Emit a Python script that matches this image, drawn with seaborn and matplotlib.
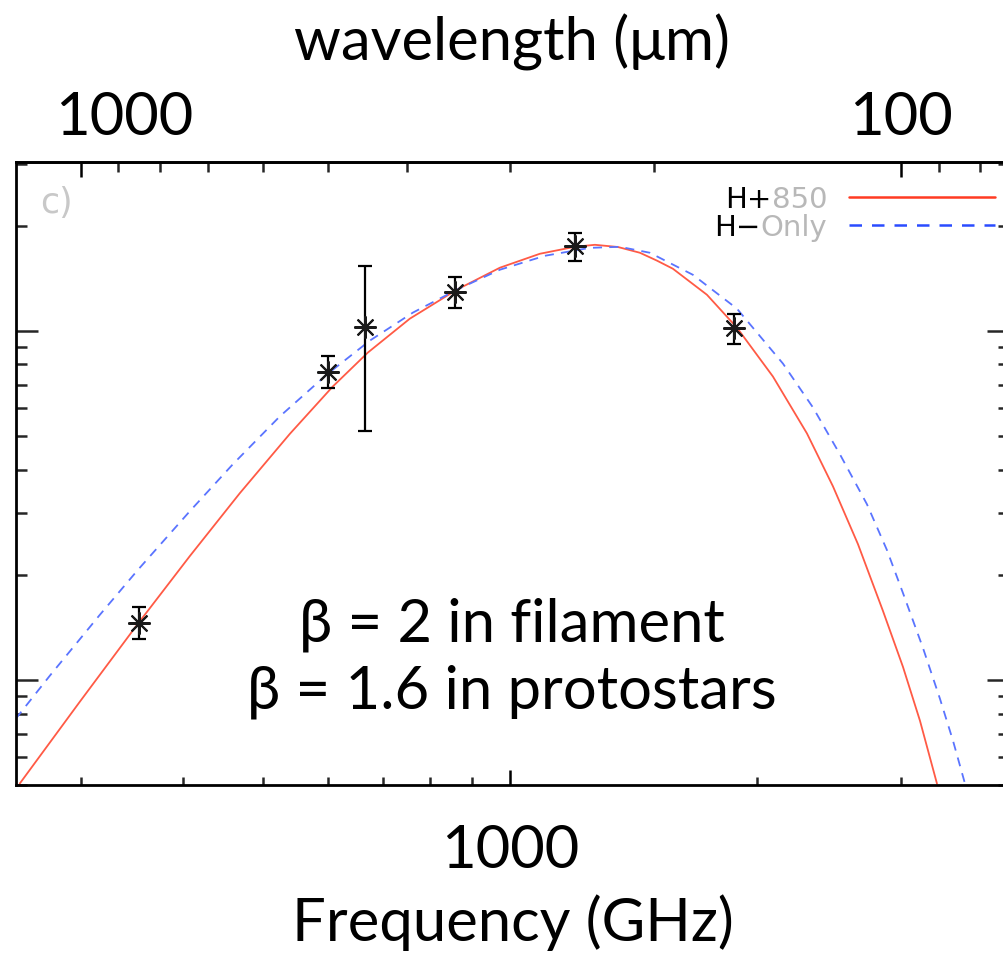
import numpy as np
import matplotlib
matplotlib.use("Agg")
import matplotlib.pyplot as plt
import matplotlib.transforms as mtransforms
import seaborn as sns
from matplotlib.ticker import FixedLocator, NullFormatter, FixedFormatter

# ---------------- data ----------------
C_UM_GHZ = 299792.458  # wavelength(um) * frequency(GHz)

point_wavelength_um = [850, 500, 450, 350, 250, 160]
point_flux = [1.455, 7.63, 10.27, 12.9, 17.5, 10.2]
point_flux_lo = [1.31, 6.87, 5.15, 11.63, 15.85, 9.18]
point_flux_hi = [1.617, 8.48, 15.3, 14.27, 19.05, 11.19]

red_freq = [252.6, 299.0, 351.8, 407.2, 468.5, 539.2, 608.3, 671.2, 755.2, 861.7,
            972.3, 1087.9, 1200.2, 1269.6, 1354.2, 1440.6, 1510.9, 1580.4, 1738.8,
            1891.6, 2092.8, 2302.5, 2476.8, 2657.0, 2850.3, 3015.0, 3162.3, 3316.8]
red_flux = [0.5045, 0.8653, 1.4454, 2.261, 3.422, 5.062, 6.918, 8.652, 10.82, 13.10,
            15.14, 16.60, 17.38, 17.61, 17.36, 16.71, 15.87, 15.04, 12.67, 10.20,
            7.389, 5.078, 3.583, 2.447, 1.575, 1.089, 0.7636, 0.5045]

blue_freq = [249.8, 274.8, 316.2, 351.8, 407.2, 459.4, 524.2, 598.2, 675.0, 761.6,
             861.7, 972.3, 1103.3, 1251.9, 1361.9, 1481.5, 1671.7, 1891.6, 2152.4,
             2341.6, 2526.0, 2725.0, 2882.5, 3015.0, 3189.0, 3344.9, 3469.4, 3588.2]
blue_flux = [0.7737, 1.0267, 1.5336, 2.062, 3.040, 4.141, 5.679, 7.487, 9.363, 11.26,
             13.10, 14.94, 16.38, 17.26, 17.38, 16.71, 14.45, 11.56, 8.048,
             6.026, 4.423, 3.183, 2.352, 1.772, 1.234, 0.8825, 0.6695, 0.5045]

label_black_part = ["H+", "H\u2212"]
label_gray_part = ["850", "Only"]

freq_major_ticks = [1000]
freq_major_labels = ["1000"]
freq_minor_ticks = [300, 400, 500, 600, 700, 800, 900, 2000, 3000, 4000]

wl_major_ticks = [1000, 100]
wl_major_labels = ["1000", "100"]
wl_minor_ticks = [900, 800, 700, 600, 500, 400, 300, 200, 90, 80]

y_major_ticks = [1, 10]
y_minor_ticks = [0.5, 0.6, 0.7, 0.8, 0.9, 2, 3, 4, 5, 6, 7, 8, 9, 20, 30]

annot_lines = ["\u03b2 = 2 in filament", "\u03b2 = 1.6 in protostars"]

# ---------------- style ----------------
sns.set_theme(style="ticks")
plt.rcParams["font.family"] = ["Lato", "DejaVu Sans"]
BIG = ["Lato", "DejaVu Sans"]
SMALL = ["DejaVu Sans"]
BIGSIZE = 43
LEGSIZE = 21

fig = plt.figure(figsize=(10.04, 9.57), dpi=100)
W, H = 1004, 957
ax = fig.add_axes([16 / W, (H - 785) / H, (1009 - 16) / W, (785 - 162) / H])
ax.set_facecolor("white")
fig.patch.set_facecolor("white")

ax.set_xscale("log")
ax.set_yscale("log")

point_freq = [C_UM_GHZ / w for w in point_wavelength_um]

sns.lineplot(x=red_freq, y=red_flux, ax=ax, color="#ff5a45", linewidth=1.3,
             label=label_gray_part[0], sort=True)
sns.lineplot(x=blue_freq, y=blue_flux, ax=ax, color="#5a74ff", linewidth=1.3,
             linestyle=(0, (5, 4)), label=label_gray_part[1], sort=True)

yerr = np.array([[f - lo for f, lo in zip(point_flux, point_flux_lo)],
                 [hi - f for f, hi in zip(point_flux, point_flux_hi)]])
ax.errorbar(point_freq, point_flux, yerr=yerr, fmt="none", ecolor="black",
            elinewidth=1.6, capsize=5, capthick=1.6, zorder=5)
ax.plot(point_freq, point_flux, linestyle="none", marker=(8, 2, 0), markersize=16,
        markeredgewidth=1.5, color="#1a1a1a", zorder=6)

ax.set_xlim(250, 4060)
ax.set_ylim(0.5, 30.4)

for s in ax.spines.values():
    s.set_linewidth(2.0)
    s.set_color("black")

# bottom axis (frequency)
ax.xaxis.set_major_locator(FixedLocator(freq_major_ticks))
ax.xaxis.set_major_formatter(FixedFormatter(freq_major_labels))
ax.xaxis.set_minor_locator(FixedLocator(freq_minor_ticks))
ax.xaxis.set_minor_formatter(NullFormatter())
ax.tick_params(axis="x", which="major", direction="in", length=11, width=1.8,
               labelsize=BIGSIZE, pad=28, colors="black", top=False)
ax.tick_params(axis="x", which="minor", direction="in", length=6, width=1.8, top=False)
for lab in ax.get_xticklabels():
    lab.set_fontfamily(BIG)
ax.set_xlabel("Frequency (GHz)", fontsize=BIGSIZE, family=BIG, color="black",
              labelpad=12)

# y axis
ax.yaxis.set_major_locator(FixedLocator(y_major_ticks))
ax.yaxis.set_minor_locator(FixedLocator(y_minor_ticks))
ax.yaxis.set_major_formatter(NullFormatter())
ax.yaxis.set_minor_formatter(NullFormatter())
ax.tick_params(axis="y", which="major", direction="in", length=16, width=1.8,
               left=True, right=True)
ax.tick_params(axis="y", which="minor", direction="in", length=8, width=1.8,
               left=True, right=True)

# top axis (wavelength)
secax = ax.secondary_xaxis("top", functions=(lambda f: C_UM_GHZ / f,
                                              lambda w: C_UM_GHZ / w))
secax.xaxis.set_major_locator(FixedLocator(wl_major_ticks))
secax.xaxis.set_major_formatter(FixedFormatter(wl_major_labels))
secax.xaxis.set_minor_locator(FixedLocator(wl_minor_ticks))
secax.xaxis.set_minor_formatter(NullFormatter())
secax.tick_params(axis="x", which="major", direction="in", length=11, width=1.8,
                  labelsize=BIGSIZE, pad=12, colors="black")
secax.tick_params(axis="x", which="minor", direction="in", length=7, width=1.8)
secax.spines["top"].set_linewidth(2.0)
top_ticks = secax.xaxis.get_major_ticks()
for tk in top_ticks:
    tk.label1.set_fontfamily(BIG)
    tk.label2.set_fontfamily(BIG)
# the "1000" label sits to the right of its tick in the reference
shift = mtransforms.ScaledTranslation(43 / 100, 0, fig.dpi_scale_trans)
top_ticks[0].label1.set_transform(top_ticks[0].label1.get_transform() + shift)
top_ticks[0].label2.set_transform(top_ticks[0].label2.get_transform() + shift)
secax.set_xlabel("wavelength (\u03bcm)", fontsize=BIGSIZE, family=BIG, color="black",
                 labelpad=22)

# legend: gray part as legend label, black prefix placed just before it
leg = ax.legend(loc="upper right", bbox_to_anchor=(0.986, 0.962), frameon=False,
                markerfirst=False, handlelength=5.0, handletextpad=0.75,
                labelspacing=0.0, borderpad=0, borderaxespad=0,
                prop={"family": SMALL, "size": LEGSIZE})
gray = "#b8b8b8"
for t, pre in zip(leg.get_texts(), label_black_part):
    t.set_color(gray)
    ax.annotate(pre, xy=(0, 0), xycoords=t, ha="right", va="bottom",
                fontsize=LEGSIZE, family=SMALL, color="black", zorder=10)
leg.get_lines()[0].set_color("#ff3b22")
leg.get_lines()[0].set_linewidth(1.8)
leg.get_lines()[1].set_color("#2a4cff")
leg.get_lines()[1].set_linewidth(1.8)

ax.text(0.024, 0.962, "c)", transform=ax.transAxes, ha="left", va="top",
        fontsize=25, family=SMALL, color="#c8c8c8")

# annotation
ax.text(0.499, 0.258, annot_lines[0], transform=ax.transAxes, ha="center",
        va="center", fontsize=BIGSIZE, family=BIG, color="black")
ax.text(0.499, 0.150, annot_lines[1], transform=ax.transAxes, ha="center",
        va="center", fontsize=BIGSIZE, family=BIG, color="black")

fig.savefig("out.png", dpi=100, facecolor="white")
